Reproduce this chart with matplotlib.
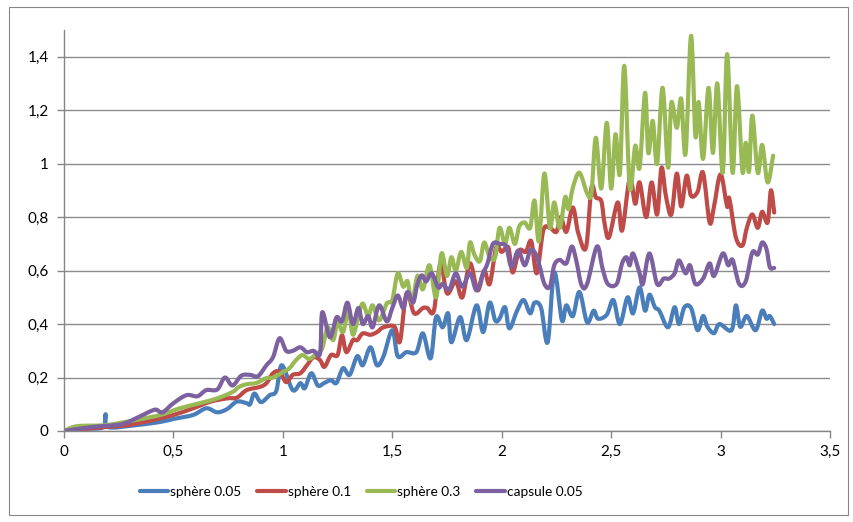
import numpy as np
import matplotlib
matplotlib.use('Agg')
import matplotlib.pyplot as plt
from matplotlib.patches import Rectangle, PathPatch
from matplotlib.path import Path
from matplotlib.lines import Line2D
from matplotlib.ticker import FuncFormatter

plt.rcParams['font.family'] = ['Lato', 'DejaVu Sans']

# readings for each run (x, y)
x_sph005 = [0.0, 0.1, 0.18, 0.19, 0.20, 0.33, 0.44, 0.50, 0.59, 0.65, 0.70, 0.745, 0.79, 0.835, 0.85,
            0.87, 0.90, 0.94, 0.97, 0.995, 1.045, 1.08, 1.10, 1.13, 1.16, 1.19, 1.22, 1.245, 1.275,
            1.305, 1.34, 1.365, 1.40, 1.43, 1.46, 1.50, 1.525, 1.565, 1.61, 1.64, 1.675, 1.70, 1.73,
            1.755, 1.77, 1.81, 1.84, 1.885, 1.915, 1.945, 1.97, 1.99, 2.015, 2.035, 2.07, 2.10, 2.13,
            2.15, 2.18, 2.21, 2.24, 2.275, 2.295, 2.325, 2.355, 2.39, 2.42, 2.44, 2.48, 2.51, 2.54,
            2.575, 2.60, 2.63, 2.655, 2.675, 2.70, 2.72, 2.76, 2.79, 2.81, 2.835, 2.865, 2.895, 2.92,
            2.94, 2.97, 2.995, 3.05, 3.07, 3.09, 3.12, 3.16, 3.19, 3.21, 3.225, 3.245]
y_sph005 = [0.0, 0.008, 0.015, 0.063, 0.015, 0.022, 0.034, 0.045, 0.06, 0.085, 0.07, 0.082, 0.11, 0.104, 0.10,
            0.14, 0.108, 0.134, 0.15, 0.246, 0.153, 0.179, 0.16, 0.216, 0.17, 0.18, 0.19, 0.18, 0.235,
            0.21, 0.28, 0.246, 0.313, 0.246, 0.28, 0.377, 0.28, 0.295, 0.295, 0.365, 0.272, 0.426, 0.388,
            0.44, 0.332, 0.426, 0.34, 0.47, 0.37, 0.48, 0.414, 0.42, 0.463, 0.384, 0.45, 0.49, 0.44,
            0.48, 0.46, 0.332, 0.593, 0.414, 0.47, 0.43, 0.52, 0.407, 0.45, 0.42, 0.435, 0.49, 0.40,
            0.50, 0.44, 0.537, 0.45, 0.51, 0.463, 0.45, 0.388, 0.463, 0.40, 0.463, 0.46, 0.377, 0.43,
            0.39, 0.366, 0.40, 0.377, 0.47, 0.39, 0.43, 0.377, 0.45, 0.42, 0.43, 0.40]

x_sph01 = [0.0, 0.19, 0.29, 0.39, 0.50, 0.59, 0.67, 0.745, 0.79, 0.835, 0.895, 0.925, 0.955, 0.985,
           1.015, 1.045, 1.08, 1.11, 1.14, 1.17, 1.19, 1.22, 1.25, 1.27, 1.29, 1.32, 1.34, 1.365, 1.40,
           1.43, 1.46, 1.51, 1.535, 1.565, 1.60, 1.64, 1.66, 1.69, 1.72, 1.75, 1.79, 1.82, 1.855, 1.89,
           1.92, 1.945, 1.975, 2.00, 2.03, 2.05, 2.08, 2.11, 2.135, 2.16, 2.19, 2.22, 2.25, 2.27, 2.295,
           2.325, 2.35, 2.385, 2.41, 2.43, 2.455, 2.47, 2.49, 2.53, 2.55, 2.585, 2.61, 2.63, 2.66, 2.685,
           2.71, 2.73, 2.75, 2.775, 2.80, 2.82, 2.845, 2.865, 2.895, 2.92, 2.95, 2.97, 3.00, 3.03, 3.04,
           3.07, 3.10, 3.12, 3.145, 3.17, 3.19, 3.215, 3.23, 3.245]
y_sph01 = [0.0, 0.015, 0.022, 0.038, 0.06, 0.085, 0.11, 0.122, 0.125, 0.153, 0.165, 0.179, 0.216, 0.222,
           0.183, 0.21, 0.216, 0.246, 0.276, 0.265, 0.24, 0.284, 0.284, 0.358, 0.295, 0.34, 0.34, 0.365, 0.36,
           0.37, 0.388, 0.39, 0.335, 0.515, 0.44, 0.46, 0.46, 0.45, 0.627, 0.515, 0.56, 0.50, 0.627, 0.526,
           0.60, 0.55, 0.687, 0.67, 0.687, 0.593, 0.675, 0.67, 0.71, 0.59, 0.75, 0.76, 0.745, 0.80, 0.745,
           0.836, 0.74, 0.686, 0.91, 0.874, 0.86, 0.776, 0.724, 0.855, 0.75, 0.944, 0.85, 0.93, 0.80, 0.93,
           0.81, 0.985, 0.88, 0.81, 0.963, 0.84, 0.955, 0.88, 0.895, 0.966, 0.78, 0.84, 0.96, 0.84, 0.87,
           0.724, 0.694, 0.76, 0.81, 0.76, 0.82, 0.78, 0.90, 0.817]

x_sph03 = [0.0, 0.06, 0.19, 0.32, 0.44, 0.53, 0.62, 0.70, 0.77, 0.80, 0.835, 0.88, 0.925, 0.955, 1.0,
           1.03, 1.06, 1.09, 1.12, 1.155, 1.18, 1.205, 1.23, 1.25, 1.275, 1.30, 1.32, 1.345, 1.365, 1.39,
           1.41, 1.44, 1.475, 1.50, 1.525, 1.55, 1.57, 1.59, 1.615, 1.64, 1.67, 1.70, 1.725, 1.75, 1.77,
           1.79, 1.815, 1.84, 1.855, 1.875, 1.90, 1.92, 1.945, 1.97, 1.99, 2.015, 2.035, 2.06, 2.08, 2.105,
           2.13, 2.15, 2.17, 2.195, 2.22, 2.24, 2.265, 2.29, 2.305, 2.325, 2.355, 2.39, 2.41, 2.43, 2.455,
           2.48, 2.50, 2.52, 2.54, 2.56, 2.585, 2.61, 2.63, 2.655, 2.67, 2.69, 2.71, 2.735, 2.76, 2.775,
           2.80, 2.82, 2.84, 2.865, 2.885, 2.90, 2.92, 2.945, 2.965, 2.985, 3.01, 3.03, 3.055, 3.075, 3.10,
           3.115, 3.13, 3.145, 3.17, 3.19, 3.215, 3.24]
y_sph03 = [0.0, 0.018, 0.022, 0.04, 0.06, 0.085, 0.104, 0.122, 0.146, 0.165, 0.175, 0.18, 0.198, 0.20, 0.22,
           0.235, 0.265, 0.284, 0.27, 0.29, 0.31, 0.388, 0.34, 0.407, 0.37, 0.45, 0.36, 0.43, 0.477, 0.43,
           0.47, 0.414, 0.477, 0.49, 0.59, 0.54, 0.56, 0.48, 0.58, 0.53, 0.62, 0.50, 0.664, 0.58, 0.65,
           0.60, 0.67, 0.61, 0.705, 0.66, 0.635, 0.705, 0.65, 0.65, 0.76, 0.70, 0.76, 0.70, 0.765, 0.78,
           0.76, 0.862, 0.71, 0.963, 0.76, 0.855, 0.76, 0.875, 0.83, 0.91, 0.966, 0.89, 0.89, 1.097, 0.907,
           1.153, 0.907, 1.11, 0.963, 1.366, 0.91, 1.067, 0.985, 1.265, 1.04, 1.16, 1.0, 1.284, 0.985, 1.228,
           1.134, 1.243, 1.037, 1.478, 1.104, 1.23, 1.018, 1.284, 1.04, 1.30, 0.966, 1.41, 0.966, 1.29, 0.97,
           1.078, 0.97, 1.18, 0.966, 1.07, 0.93, 1.03]

x_caps005 = [0.0, 0.13, 0.26, 0.33, 0.385, 0.42, 0.45, 0.50, 0.56, 0.61, 0.65, 0.70, 0.735, 0.77, 0.81,
             0.85, 0.886, 0.925, 0.955, 0.985, 1.015, 1.045, 1.08, 1.11, 1.14, 1.17, 1.18, 1.215, 1.245,
             1.27, 1.295, 1.32, 1.345, 1.365, 1.39, 1.41, 1.44, 1.475, 1.50, 1.525, 1.55, 1.57, 1.595,
             1.615, 1.635, 1.655, 1.68, 1.71, 1.73, 1.76, 1.79, 1.82, 1.855, 1.885, 1.915, 1.935, 1.96,
             1.99, 2.02, 2.045, 2.075, 2.105, 2.13, 2.15, 2.17, 2.195, 2.22, 2.24, 2.265, 2.295, 2.32,
             2.34, 2.365, 2.39, 2.435, 2.46, 2.485, 2.525, 2.55, 2.57, 2.585, 2.60, 2.63, 2.645, 2.675,
             2.71, 2.74, 2.765, 2.79, 2.81, 2.84, 2.86, 2.885, 2.92, 2.95, 2.97, 3.01, 3.035, 3.055, 3.085,
             3.115, 3.145, 3.17, 3.19, 3.21, 3.225, 3.245]
y_caps005 = [0.0, 0.015, 0.025, 0.048, 0.07, 0.08, 0.07, 0.104, 0.134, 0.13, 0.153, 0.155, 0.20, 0.17, 0.207,
             0.21, 0.205, 0.246, 0.276, 0.347, 0.30, 0.30, 0.313, 0.295, 0.30, 0.29, 0.444, 0.35, 0.425,
             0.41, 0.48, 0.40, 0.46, 0.40, 0.43, 0.388, 0.47, 0.41, 0.46, 0.507, 0.46, 0.52, 0.48,
             0.55, 0.582, 0.56, 0.59, 0.537, 0.55, 0.53, 0.59, 0.54, 0.59, 0.526, 0.59, 0.627, 0.70,
             0.70, 0.69, 0.613, 0.675, 0.62, 0.675, 0.67, 0.627, 0.55, 0.54, 0.62, 0.64, 0.627, 0.69,
             0.64, 0.545, 0.55, 0.69, 0.61, 0.55, 0.55, 0.627, 0.65, 0.62, 0.664, 0.59, 0.55, 0.664,
             0.55, 0.57, 0.57, 0.59, 0.638, 0.59, 0.62, 0.55, 0.57, 0.627, 0.58, 0.664, 0.62, 0.64, 0.55,
             0.56, 0.668, 0.66, 0.705, 0.68, 0.613, 0.61]

labels = ['sphère 0.05', 'sphère 0.1', 'sphère 0.3', 'capsule 0.05']
colors = ['#4A7EBB', '#BE4B48', '#98B954', '#7D60A0']

x_ticks = np.arange(0, 3.51, 0.5)
y_ticks = np.arange(0, 1.41, 0.2)


def comma_fmt(v, pos):
    s = ('%.1f' % v).rstrip('0').rstrip('.')
    return s.replace('.', ',')


def smooth_path(xs, ys, tension=1 / 6.):
    """Bezier path through the points (same idea as a 'smoothed line' in a spreadsheet)."""
    p = np.column_stack([xs, ys]).astype(float)
    n = len(p)
    verts = [p[0]]
    codes = [Path.MOVETO]
    for i in range(n - 1):
        p0 = p[i - 1] if i > 0 else p[i]
        p3 = p[i + 2] if i + 2 < n else p[i + 1]
        c1 = p[i] + (p[i + 1] - p0) * tension
        c2 = p[i + 1] - (p3 - p[i]) * tension
        verts += [c1, c2, p[i + 1]]
        codes += [Path.CURVE4] * 3
    return Path(verts, codes)


fig = plt.figure(figsize=(8.54, 5.22), dpi=100)
# chart border
fig.patches.append(Rectangle((9 / 854., 1 - 515 / 522.), 839 / 854., 508 / 522.,
                             transform=fig.transFigure, fill=False,
                             edgecolor='#868686', linewidth=0.8))

ax = fig.add_axes([64 / 854., 1 - 431 / 522., 766 / 854., 401 / 522.])

series = [(x_sph005, y_sph005), (x_sph01, y_sph01), (x_sph03, y_sph03), (x_caps005, y_caps005)]
handles = []
for (xs, ys), lab, c in zip(series, labels, colors):
    ax.add_patch(PathPatch(smooth_path(xs, ys), fill=False, edgecolor=c, lw=3.0,
                           joinstyle='round', capstyle='round'))
    handles.append(Line2D([], [], color=c, lw=3.0, solid_capstyle='round', label=lab))

ax.set_xlim(0, 3.5)
ax.set_ylim(0, 1.5)
ax.set_xticks(x_ticks)
ax.set_yticks(y_ticks)
ax.xaxis.set_major_formatter(FuncFormatter(comma_fmt))
ax.yaxis.set_major_formatter(FuncFormatter(comma_fmt))
ax.yaxis.grid(True, color='#8C8C8C', linewidth=1.0)
ax.set_axisbelow(True)

for side in ['top', 'right']:
    ax.spines[side].set_visible(False)
for side in ['left', 'bottom']:
    ax.spines[side].set_color('#868686')
    ax.spines[side].set_linewidth(1.0)
ax.tick_params(axis='both', direction='out', length=5, width=1.0, color='#868686',
               labelsize=11, labelcolor='black')
ax.tick_params(axis='x', pad=5)
ax.tick_params(axis='y', pad=6)

fig.legend(handles=handles, loc='center', bbox_to_anchor=(361 / 854., 1 - 492 / 522.), ncol=4,
           frameon=False, fontsize=9.8, handlelength=2.1, handletextpad=0.15, columnspacing=1.15)

fig.savefig('out.png', dpi=100)
